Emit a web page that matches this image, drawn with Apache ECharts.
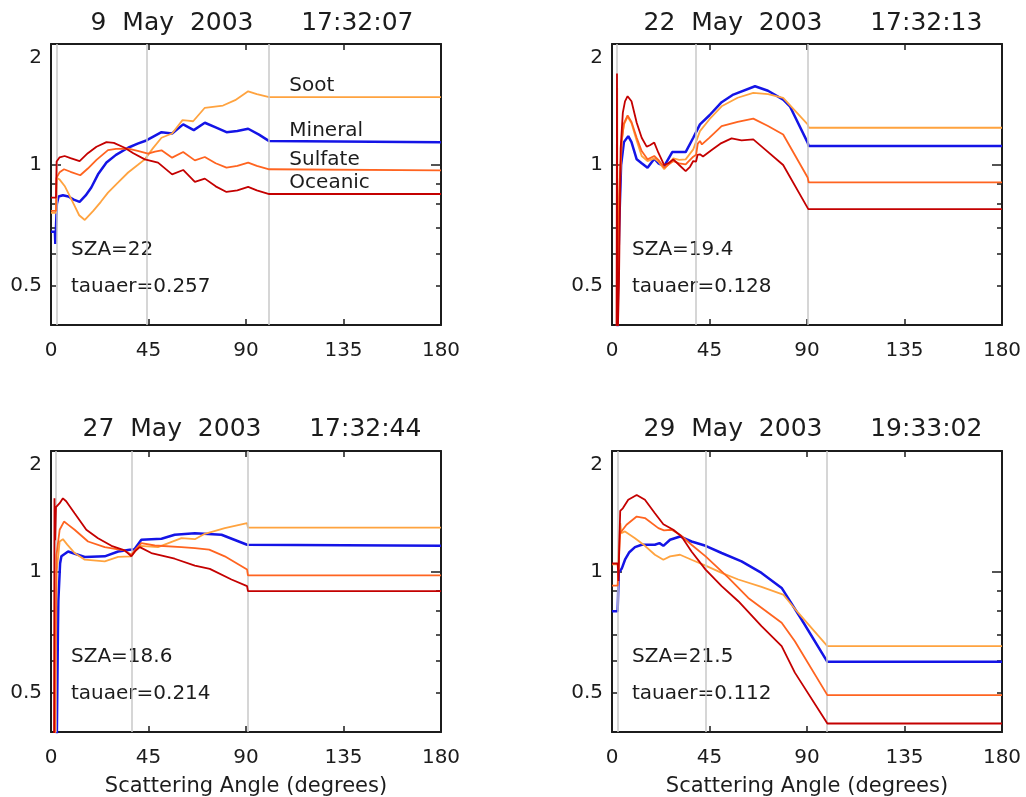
<!DOCTYPE html>
<html>
<head>
<meta charset="utf-8">
<script src="https://cdn.jsdelivr.net/npm/echarts@6/dist/echarts.min.js"></script>
<style>
  html, body { margin: 0; padding: 0; background: #ffffff; }
  #chart { width: 1026px; height: 797px; }
</style>
</head>
<body>
<div id="chart"></div>
<script>
// ---- Aerosol model ratio vs scattering angle, four MISR-style overpasses ----

const seriesNames = ['Mineral', 'Soot', 'Sulfate', 'Oceanic'];
const seriesColors = { Mineral: '#1414e6', Soot: '#ffa33f', Sulfate: '#ff6420', Oceanic: '#c40000' };
const seriesWidths = { Mineral: 2.5, Soot: 1.8, Sulfate: 1.8, Oceanic: 1.8 };

const panelTitles = [
  '9  May  2003      17:32:07',
  '22  May  2003      17:32:13',
  '27  May  2003      17:32:44',
  '29  May  2003      19:33:02'
];
const szaValues = ['22', '19.4', '18.6', '21.5'];
const tauaerValues = ['0.257', '0.128', '0.214', '0.112'];

// angles (degrees) where the grey boundary lines sit in each panel
const boundaries09 = [2.5, 44, 100.7];
const boundaries22 = [2.2, 38.7, 90.5];
const boundaries27 = [2.1, 37.2, 90.7];
const boundaries29 = [2.6, 43.1, 99.2];

const xTickInterval = 45;
const yRange = [0.4, 2];
const yLabelValues = [0.5, 1, 2];
const yMinorTickValues = [0.5, 0.6, 0.7, 0.8, 0.9, 2];
const yMajorTickValues = [1];

// ---- 9 May 2003 ----
const mineral09 = [[0,0.682],[1.8,0.682],[2,0.636],[2.4,0.636],[2.7,0.80],[3.5,0.835],[5.5,0.841],[8,0.835],[10.5,0.82],[13.2,0.81],[16,0.84],[18.6,0.879],[21.7,0.948],[25.6,1.014],[30,1.06],[35.6,1.104],[40,1.13],[44,1.151],[47,1.175],[51,1.207],[55.9,1.198],[61,1.262],[65.9,1.221],[71,1.274],[76,1.24],[81,1.207],[86,1.215],[91,1.231],[96,1.19],[100.7,1.147],[101,1.14],[180,1.14]];
const soot09 = [[0,0.76],[2.3,0.76],[2.6,0.93],[4,0.92],[6.3,0.887],[8.5,0.84],[10.9,0.791],[13,0.75],[15.6,0.73],[19.5,0.769],[23,0.81],[26.3,0.854],[31,0.905],[35.6,0.958],[40,1.0],[43.3,1.033],[47,1.10],[51,1.169],[55.9,1.198],[60.7,1.293],[63,1.29],[65.6,1.285],[71,1.388],[79.4,1.406],[85,1.45],[91,1.525],[95,1.50],[100.7,1.476],[180,1.476]];
const sulfate09 = [[0,0.769],[2.3,0.769],[2.6,0.93],[4,0.96],[6,0.976],[9,0.962],[13.5,0.943],[17,0.98],[21,1.03],[26.3,1.089],[30,1.097],[35.6,1.098],[40,1.085],[44.8,1.067],[48,1.08],[51,1.088],[55.9,1.043],[61,1.077],[66.4,1.027],[71,1.047],[76,1.01],[81,0.985],[86,0.995],[91,1.014],[95,0.995],[100.7,0.976],[101,0.97],[180,0.97]];
const oceanic09 = [[0,0.83],[2.3,0.83],[2.6,1.02],[4,1.045],[6.3,1.053],[9,1.04],[13.2,1.023],[17,1.07],[21,1.11],[25.6,1.14],[29,1.135],[34,1.104],[38,1.07],[43.3,1.033],[49.4,1.014],[55.9,0.948],[61,0.972],[66.4,0.908],[71,0.925],[76,0.885],[81,0.857],[86,0.865],[91,0.882],[95,0.865],[100.7,0.847],[180,0.847]];

// ---- 22 May 2003 ----
const mineral22 = [[0,0.35],[2.5,0.35],[2.7,0.484],[3.3,0.7],[4.2,1.0],[5.5,1.14],[7.5,1.18],[9,1.14],[11.4,1.033],[13.7,1.01],[16.4,0.985],[19.5,1.037],[21.4,1.01],[24.1,0.994],[27.8,1.077],[34,1.077],[37.5,1.169],[40.6,1.262],[45,1.33],[50.6,1.433],[56,1.497],[66,1.57],[72,1.53],[79,1.455],[82.1,1.40],[90.3,1.137],[90.8,1.115],[180,1.115]];
const soot22 = [[0,0.35],[2.2,0.35],[2.4,1.555],[2.6,0.4],[3.3,0.8],[4.5,1.15],[5.5,1.26],[7.2,1.32],[9,1.27],[11.4,1.15],[13.7,1.053],[16.4,1.023],[19.5,1.039],[21.4,1.02],[24.1,0.976],[28.3,1.039],[31,1.03],[34,1.033],[37.5,1.094],[40.6,1.214],[45,1.3],[50.6,1.40],[58,1.47],[65.2,1.512],[72,1.5],[79,1.469],[90.3,1.262],[90.8,1.238],[180,1.238]];
const sulfate22 = [[0,0.35],[2.4,0.35],[2.7,0.55],[3.5,0.9],[4.5,1.15],[5.5,1.27],[7.2,1.328],[9,1.28],[11.4,1.169],[13.7,1.083],[16.4,1.033],[19.5,1.053],[21.4,1.03],[24.1,0.985],[28.3,1.023],[31,1.01],[34,1.004],[37.5,1.049],[38.8,1.06],[39.6,1.13],[40.6,1.147],[41.5,1.125],[45,1.17],[50.6,1.249],[58,1.28],[65.2,1.304],[72,1.25],[79,1.191],[90.3,0.931],[90.8,0.905],[180,0.905]];
const oceanic22 = [[0,0.35],[2.1,0.35],[2.3,1.69],[2.5,0.35],[3.2,0.5],[4,1.1],[5,1.35],[6,1.44],[7.2,1.483],[9,1.441],[11.4,1.274],[13.7,1.169],[16,1.111],[17.5,1.12],[19.5,1.137],[21.4,1.073],[24.1,1.0],[26,1.01],[28.3,1.033],[31,1.0],[34,0.966],[36,0.99],[37.5,1.023],[38.8,1.02],[39.5,1.06],[40.6,1.063],[42,1.05],[46,1.09],[50,1.13],[55.2,1.165],[59.8,1.151],[65.2,1.158],[70.6,1.094],[79,1.0],[90.6,0.777],[180,0.777]];

// ---- 27 May 2003 ----
const mineral27 = [[0,0.35],[2.6,0.35],[3.2,0.713],[3.4,0.85],[4.2,1.05],[4.8,1.094],[7.9,1.125],[11,1.11],[15.6,1.09],[24.8,1.094],[31,1.125],[37.1,1.137],[38.5,1.14],[41.7,1.203],[51,1.21],[57.1,1.238],[66.4,1.249],[78.7,1.238],[90.5,1.169],[90.9,1.162],[180,1.162]];
const soot27 = [[0,0.35],[1.9,0.35],[2.6,1.0],[4,1.191],[5.5,1.207],[7.5,1.17],[10.9,1.115],[15.6,1.073],[24.8,1.063],[31,1.09],[37.1,1.094],[38.5,1.12],[41,1.162],[49.4,1.153],[60.2,1.214],[66.4,1.207],[71,1.245],[80.2,1.286],[90.5,1.323],[90.9,1.29],[180,1.29]];
const sulfate27 = [[0,0.35],[1.8,0.35],[2.5,1.1],[4,1.274],[6,1.335],[8,1.31],[10.9,1.274],[17.1,1.191],[24.8,1.153],[33.7,1.132],[37.1,1.104],[38.5,1.13],[41.7,1.18],[47.9,1.164],[60.2,1.153],[66.4,1.147],[73,1.137],[80.2,1.094],[90.5,1.014],[90.9,0.981],[180,0.981]];
const oceanic27 = [[0,0.35],[1.4,0.35],[1.6,1.525],[1.9,1.2],[2.3,1.45],[4,1.483],[5.5,1.525],[7,1.5],[10.9,1.40],[16.3,1.274],[21.7,1.214],[27.9,1.162],[34,1.132],[37.1,1.094],[39,1.13],[41,1.153],[46.3,1.115],[57.1,1.079],[66.4,1.037],[73.3,1.018],[83.3,0.958],[90.5,0.922],[90.9,0.896],[180,0.896]];

// ---- 29 May 2003 ----
const mineral29 = [[0,0.799],[2.6,0.799],[3.1,0.995],[4.5,1.02],[6,1.073],[8,1.12],[10.6,1.153],[13.7,1.169],[19.8,1.169],[21.9,1.18],[23.7,1.162],[26.8,1.203],[31.4,1.226],[36.7,1.191],[43.2,1.162],[50.6,1.115],[59.8,1.063],[69,0.995],[78.3,0.913],[87.5,0.762],[99.4,0.598],[180,0.598]];
const soot29 = [[0,1.045],[2.6,1.045],[3.3,1.2],[3.8,1.323],[4.3,1.25],[6,1.262],[10.6,1.214],[15.2,1.162],[19.8,1.104],[23.7,1.073],[26.8,1.094],[31.4,1.104],[36.7,1.073],[43.2,1.037],[50.6,0.995],[58.3,0.958],[69,0.918],[79,0.879],[86,0.791],[99.4,0.654],[180,0.654]];
const sulfate29 = [[0,0.925],[2.6,0.925],[3,0.93],[3.8,1.25],[4.5,1.25],[6.7,1.311],[11.4,1.374],[15.2,1.362],[21.4,1.286],[24,1.269],[27.5,1.274],[31.4,1.238],[36.7,1.169],[43.2,1.094],[53.8,0.967],[62.9,0.862],[78.3,0.748],[84.4,0.673],[99.4,0.494],[180,0.494]];
const oceanic29 = [[0,1.05],[2.6,1.05],[3,0.95],[3.4,1.2],[3.8,1.42],[4.4,1.428],[5,1.44],[7.5,1.512],[11.4,1.555],[15.2,1.512],[19.8,1.40],[23.7,1.315],[28.3,1.274],[32.1,1.226],[36.7,1.125],[43.2,1.014],[50.6,0.922],[58.3,0.846],[69,0.734],[78.3,0.654],[84.4,0.562],[99.4,0.42],[180,0.42]];

// ---- layout ----
const FONT = 'DejaVu Sans';
const INK = '#1c1c1c';
const PLOT_W = 390, PLOT_H = 281;

const panels = [
  { left: 51,  top: 44,  data: { Mineral: mineral09, Soot: soot09, Sulfate: sulfate09, Oceanic: oceanic09 }, marks: boundaries09, labelled: true,  bottomRow: false },
  { left: 612, top: 44,  data: { Mineral: mineral22, Soot: soot22, Sulfate: sulfate22, Oceanic: oceanic22 }, marks: boundaries22, labelled: false, bottomRow: false },
  { left: 51,  top: 451, data: { Mineral: mineral27, Soot: soot27, Sulfate: sulfate27, Oceanic: oceanic27 }, marks: boundaries27, labelled: false, bottomRow: true },
  { left: 612, top: 451, data: { Mineral: mineral29, Soot: soot29, Sulfate: sulfate29, Oceanic: oceanic29 }, marks: boundaries29, labelled: false, bottomRow: true }
];

const axisLineStyle = { color: INK, width: 2 };
const tickLineStyle = { color: INK, width: 1.5 };

const grids = [], xAxes = [], yAxes = [], series = [], graphics = [];

panels.forEach((p, gi) => {
  grids.push({ left: p.left, top: p.top, width: PLOT_W, height: PLOT_H, containLabel: false, outerBoundsMode: 'none', show: false });

  const xBase = { gridIndex: gi, type: 'value', min: 0, max: 180, interval: xTickInterval, splitLine: { show: false } };
  xAxes.push(Object.assign({}, xBase, {
    position: 'bottom',
    axisLine: { show: true, onZero: false, lineStyle: axisLineStyle },
    axisTick: { show: true, inside: true, length: 6, lineStyle: tickLineStyle },
    axisLabel: { show: true, margin: 16, fontSize: 20, fontFamily: FONT, color: INK },
    name: p.bottomRow ? 'Scattering Angle (degrees)' : '',
    nameLocation: 'middle', nameGap: 44,
    nameTextStyle: { fontSize: 21, fontFamily: FONT, color: INK }
  }));
  xAxes.push(Object.assign({}, xBase, {
    position: 'top',
    axisLine: { show: true, onZero: false, lineStyle: axisLineStyle },
    axisTick: { show: true, inside: true, length: 6, lineStyle: tickLineStyle },
    axisLabel: { show: false }
  }));

  const yBase = { gridIndex: gi, type: 'log', logBase: 2, min: yRange[0], max: yRange[1], splitLine: { show: false } };
  const yLabel = {
    show: true, customValues: yLabelValues, margin: 9, fontSize: 20, fontFamily: FONT, color: INK,
    formatter: v => Math.abs(v - 2) < 1e-6 ? '{top|2}' : String(+(+v).toFixed(2)),
    rich: { top: { fontSize: 20, fontFamily: FONT, color: INK, padding: [28, 0, 0, 0] } }
  };
  ['left', 'right'].forEach(side => {
    yAxes.push(Object.assign({}, yBase, {
      position: side,
      axisLine: { show: true, onZero: false, lineStyle: axisLineStyle },
      axisTick: { show: true, inside: true, length: 5, customValues: yMinorTickValues, lineStyle: tickLineStyle },
      axisLabel: side === 'left' ? yLabel : { show: false }
    }));
    yAxes.push(Object.assign({}, yBase, {
      position: side,
      axisLine: { show: false, onZero: false },
      axisTick: { show: true, inside: true, length: 10, customValues: yMajorTickValues, lineStyle: tickLineStyle },
      axisLabel: { show: false }
    }));
  });

  // grey boundary lines
  series.push({
    type: 'line', xAxisIndex: gi * 2, yAxisIndex: gi * 4, data: [], z: 1, silent: true,
    markLine: {
      symbol: 'none', silent: true, animation: false,
      label: { show: false },
      lineStyle: { color: '#c8c8c8', width: 1.5, type: 'solid' },
      emphasis: { disabled: true },
      data: p.marks.map(v => ({ xAxis: v }))
    }
  });

  seriesNames.forEach((name, si) => {
    const pts = p.data[name];
    const s = {
      name, type: 'line', xAxisIndex: gi * 2, yAxisIndex: gi * 4,
      data: pts, showSymbol: false, symbol: 'none', smooth: false, clip: true, z: 3 + si,
      lineStyle: { color: seriesColors[name], width: seriesWidths[name] },
      itemStyle: { color: seriesColors[name] },
      emphasis: { disabled: true }
    };
    if (p.labelled) {
      s.markPoint = {
        symbol: 'circle', symbolSize: 0, silent: true, animation: false,
        data: [{ coord: [110, pts[pts.length - 1][1]] }],
        label: { show: true, position: 'top', align: 'left', distance: 1, formatter: name, fontSize: 20, fontFamily: FONT, color: INK }
      };
    }
    series.push(s);
  });

  // panel heading and retrieval annotations
  const rowTitleY = p.bottomRow ? 429 : 23;
  graphics.push({ type: 'text', x: p.left + 201, y: rowTitleY, silent: true,
    style: { text: panelTitles[gi], fontSize: 25, fontFamily: FONT, fill: INK, align: 'center', verticalAlign: 'middle' } });
  const szaY = p.bottomRow ? 657 : 250;
  graphics.push({ type: 'text', x: p.left + 20, y: szaY, silent: true,
    style: { text: 'SZA=' + szaValues[gi], fontSize: 20, fontFamily: FONT, fill: INK, align: 'left', verticalAlign: 'middle' } });
  graphics.push({ type: 'text', x: p.left + 20, y: szaY + 37, silent: true,
    style: { text: 'tauaer=' + tauaerValues[gi], fontSize: 20, fontFamily: FONT, fill: INK, align: 'left', verticalAlign: 'middle' } });
});

const chart = echarts.init(document.getElementById('chart'), null, { renderer: 'canvas' });
chart.setOption({
  animation: false,
  backgroundColor: '#ffffff',
  grid: grids,
  xAxis: xAxes,
  yAxis: yAxes,
  series: series,
  graphic: graphics
});
</script>
</body>
</html>
